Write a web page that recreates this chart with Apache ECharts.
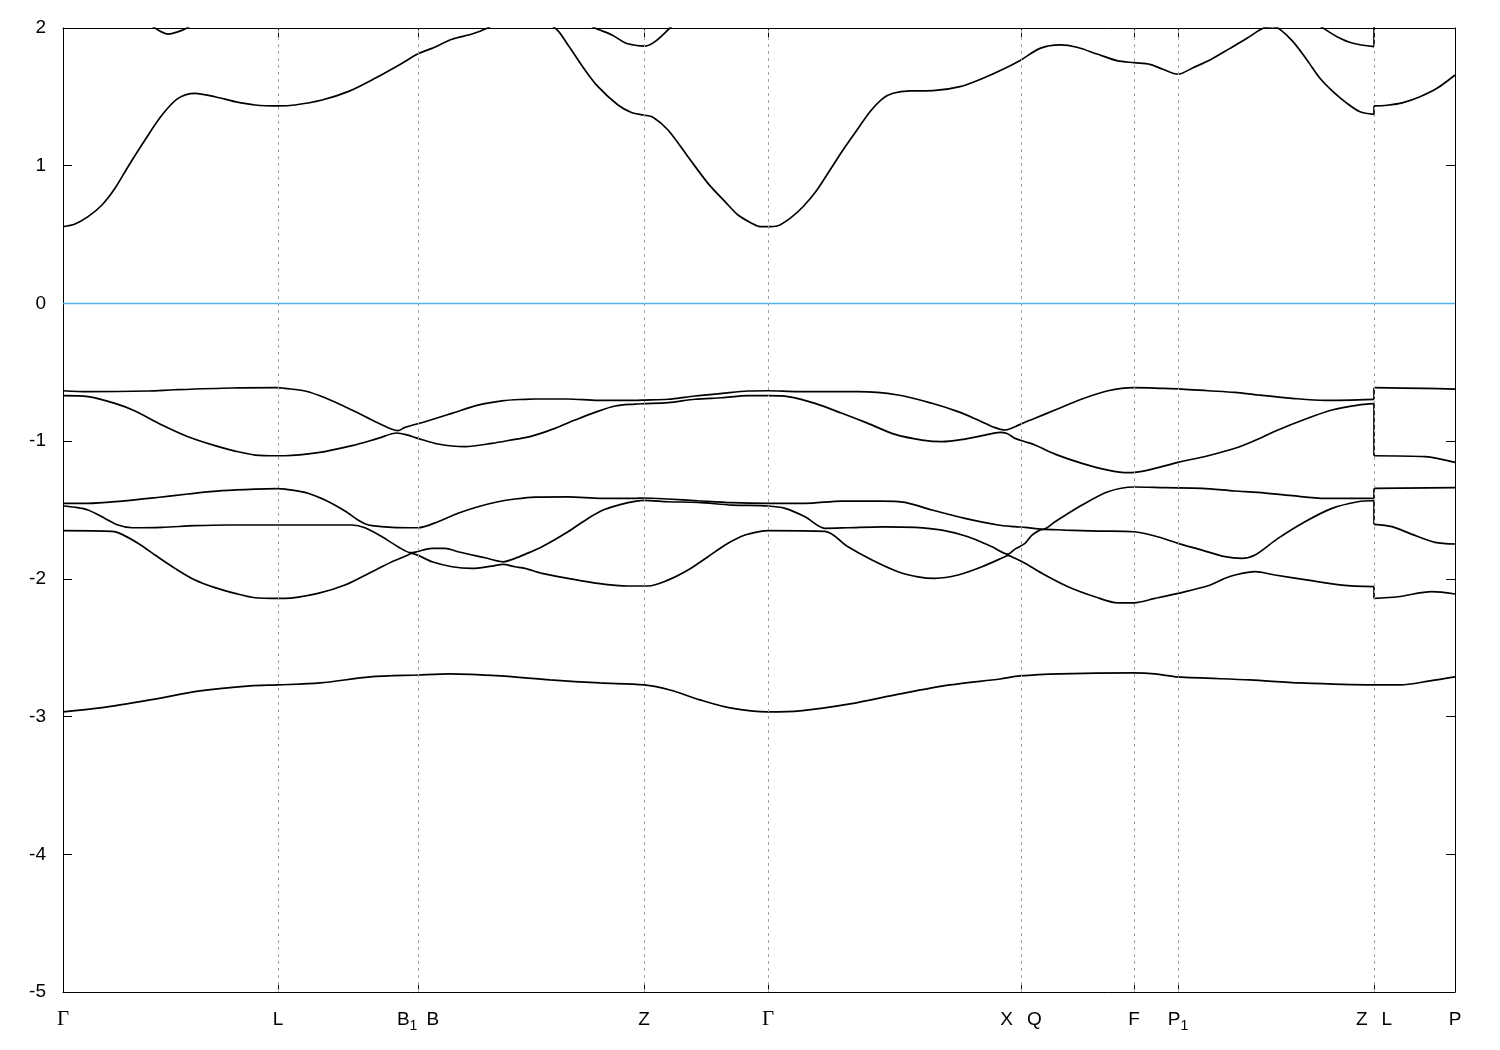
<!DOCTYPE html>
<html><head><meta charset="utf-8">
<script src="https://cdn.jsdelivr.net/npm/echarts@6/dist/echarts.min.js"></script>
<style>html,body{margin:0;padding:0;background:#fff}#c{width:1500px;height:1050px}</style>
</head><body><div id="c"></div>
<script>
// k-path positions of high-symmetry points and their labels
const kTicks = [0, 215, 355, 581, 705, 958, 1071, 1115, 1311, 1392];
const kLabels = ['{g|Γ}', '{n|L}', '{n|B}{s|1}{w| }{n|B}', '{n|Z}', '{g|Γ}', '{n|X}{w2| }{n|Q}', '{n|F}', '{n|P}{s|1}', '{n|Z}{w2| }{n|L}', '{n|P}'];
const yMin = -5, yMax = 2, yStep = 1;

// conduction bands [k, E]
const bandC1 = [[0,0.557],[12,0.577],[25,0.630],[39,0.715],[52,0.836],[65,0.993],[82,1.187],[99,1.368],[115,1.489],[132,1.526],[152,1.501],[172,1.465],[192,1.441],[215,1.434],[232,1.441],[259,1.477],[285,1.538],[312,1.635],[339,1.744],[356,1.816],[369,1.852],[389,1.918],[409,1.956],[424,1.998],[457,2.12],[492,2.0],[505,1.877],[522,1.695],[535,1.574],[555,1.441],[569,1.385],[581,1.368],[590,1.352],[605,1.259],[625,1.065],[645,0.872],[662,0.739],[675,0.642],[689,0.581],[697,0.557],[705,0.557],[714,0.562],[727,0.618],[740,0.702],[754,0.824],[767,0.969],[780,1.114],[794,1.259],[807,1.392],[820,1.489],[830,1.526],[847,1.543],[870,1.545],[897,1.574],[920,1.635],[940,1.700],[958,1.768],[977,1.852],[997,1.877],[1014,1.860],[1034,1.811],[1054,1.763],[1071,1.748],[1087,1.736],[1100,1.700],[1115,1.664],[1130,1.712],[1147,1.768],[1167,1.852],[1184,1.925],[1200,1.998],[1210,2.01],[1217,1.99],[1230,1.901],[1244,1.768],[1257,1.635],[1270,1.538],[1284,1.453],[1297,1.392],[1311,1.373],[1311,1.434],[1324,1.439],[1340,1.458],[1357,1.501],[1374,1.562],[1392,1.659]];
const bandC2 = [[0,2.15],[70,2.1],[92,2.0],[99,1.97],[105,1.956],[114,1.97],[124,2.0],[145,2.1],[300,2.3],[480,2.2],[520,2.05],[532,2.0],[549,1.949],[562,1.893],[572,1.875],[582,1.869],[592,1.901],[607,2.0],[630,2.15],[900,2.4],[1200,2.3],[1240,2.1],[1260,2.0],[1274,1.937],[1290,1.889],[1311,1.865],[1311,2.3],[1392,2.3]];

// valence bands [k, E]
const bandV1 = [[0,-0.634],[25,-0.641],[85,-0.636],[112,-0.627],[169,-0.614],[215,-0.612],[222,-0.617],[242,-0.636],[262,-0.685],[289,-0.774],[309,-0.847],[329,-0.914],[335,-0.924],[342,-0.900],[362,-0.859],[389,-0.798],[415,-0.738],[439,-0.707],[462,-0.696],[472,-0.694],[505,-0.694],[535,-0.704],[572,-0.704],[581,-0.702],[605,-0.696],[632,-0.672],[659,-0.653],[685,-0.636],[705,-0.634],[735,-0.641],[795,-0.641],[835,-0.665],[869,-0.725],[895,-0.786],[915,-0.847],[932,-0.902],[942,-0.919],[952,-0.895],[962,-0.863],[972,-0.834],[992,-0.774],[1019,-0.694],[1045,-0.634],[1071,-0.612],[1099,-0.617],[1119,-0.622],[1145,-0.634],[1172,-0.646],[1195,-0.665],[1229,-0.689],[1262,-0.704],[1311,-0.696],[1311,-0.612],[1362,-0.617],[1392,-0.622]];
const bandV2 = [[0,-0.670],[25,-0.677],[52,-0.726],[72,-0.781],[99,-0.883],[125,-0.968],[152,-1.033],[172,-1.072],[192,-1.101],[215,-1.106],[222,-1.106],[255,-1.084],[289,-1.033],[315,-0.980],[334,-0.941],[344,-0.955],[355,-0.980],[375,-1.021],[402,-1.040],[429,-1.016],[452,-0.987],[462,-0.975],[472,-0.956],[492,-0.907],[512,-0.847],[532,-0.791],[552,-0.745],[572,-0.731],[581,-0.728],[605,-0.721],[632,-0.696],[659,-0.685],[685,-0.670],[705,-0.670],[725,-0.677],[752,-0.726],[779,-0.798],[805,-0.871],[832,-0.951],[859,-0.992],[879,-1.004],[902,-0.985],[922,-0.956],[937,-0.936],[944,-0.945],[952,-0.980],[962,-1.004],[972,-1.028],[992,-1.094],[1019,-1.161],[1045,-1.210],[1065,-1.229],[1085,-1.210],[1115,-1.154],[1145,-1.106],[1172,-1.052],[1189,-1.004],[1215,-0.919],[1242,-0.841],[1269,-0.774],[1295,-0.738],[1311,-0.728],[1311,-1.106],[1362,-1.113],[1392,-1.154]];
const bandV3 = [[0,-1.452],[25,-1.452],[59,-1.435],[92,-1.411],[125,-1.384],[159,-1.360],[192,-1.348],[215,-1.345],[222,-1.348],[242,-1.372],[262,-1.428],[282,-1.508],[295,-1.573],[302,-1.600],[309,-1.614],[329,-1.626],[355,-1.629],[375,-1.585],[395,-1.524],[415,-1.476],[435,-1.440],[452,-1.420],[472,-1.406],[505,-1.404],[539,-1.415],[572,-1.415],[581,-1.413],[605,-1.420],[635,-1.433],[669,-1.447],[705,-1.452],[742,-1.452],[779,-1.435],[819,-1.435],[842,-1.445],[869,-1.500],[902,-1.561],[935,-1.609],[952,-1.621],[962,-1.626],[980,-1.640],[992,-1.585],[1019,-1.464],[1045,-1.367],[1071,-1.333],[1102,-1.338],[1139,-1.343],[1172,-1.362],[1195,-1.372],[1229,-1.396],[1262,-1.415],[1311,-1.415],[1311,-1.343],[1392,-1.338]];
const bandV4 = [[0,-1.471],[12,-1.480],[25,-1.500],[42,-1.561],[55,-1.609],[69,-1.629],[99,-1.626],[132,-1.614],[165,-1.609],[215,-1.609],[289,-1.609],[302,-1.629],[319,-1.694],[335,-1.767],[348,-1.810],[369,-1.778],[382,-1.778],[395,-1.803],[422,-1.847],[440,-1.876],[452,-1.851],[462,-1.822],[479,-1.767],[505,-1.658],[525,-1.561],[542,-1.495],[559,-1.457],[572,-1.437],[581,-1.430],[605,-1.440],[635,-1.445],[669,-1.464],[705,-1.471],[722,-1.488],[742,-1.549],[762,-1.633],[785,-1.629],[819,-1.622],[852,-1.626],[879,-1.646],[905,-1.694],[929,-1.767],[945,-1.820],[952,-1.784],[962,-1.742],[969,-1.682],[980,-1.640],[1002,-1.646],[1035,-1.653],[1071,-1.658],[1092,-1.689],[1115,-1.742],[1139,-1.791],[1162,-1.839],[1179,-1.851],[1192,-1.827],[1215,-1.706],[1242,-1.585],[1269,-1.488],[1295,-1.440],[1311,-1.433],[1311,-1.604],[1329,-1.621],[1349,-1.677],[1372,-1.735],[1392,-1.747]];
const bandV5 = [[0,-1.650],[49,-1.655],[59,-1.677],[75,-1.742],[92,-1.827],[112,-1.924],[132,-2.009],[152,-2.064],[172,-2.105],[192,-2.137],[215,-2.142],[222,-2.142],[255,-2.105],[282,-2.045],[309,-1.948],[329,-1.876],[345,-1.827],[348,-1.815],[369,-1.876],[389,-1.912],[409,-1.924],[429,-1.907],[440,-1.895],[452,-1.912],[462,-1.924],[479,-1.960],[505,-1.996],[535,-2.033],[565,-2.052],[585,-2.052],[605,-2.009],[625,-1.936],[645,-1.839],[665,-1.742],[682,-1.682],[699,-1.653],[705,-1.650],[762,-1.655],[785,-1.767],[809,-1.863],[835,-1.948],[855,-1.985],[872,-1.996],[895,-1.972],[919,-1.912],[942,-1.839],[945,-1.830],[952,-1.851],[962,-1.887],[979,-1.960],[1005,-2.057],[1032,-2.130],[1055,-2.174],[1071,-2.174],[1092,-2.142],[1115,-2.105],[1145,-2.050],[1162,-1.996],[1172,-1.972],[1192,-1.948],[1212,-1.972],[1245,-2.009],[1279,-2.045],[1311,-2.057],[1311,-2.142],[1335,-2.130],[1369,-2.093],[1392,-2.110]];
const bandV6 = [[0,-2.966],[37,-2.937],[87,-2.879],[137,-2.814],[187,-2.777],[215,-2.770],[257,-2.756],[307,-2.712],[355,-2.698],[387,-2.690],[437,-2.705],[487,-2.734],[537,-2.756],[581,-2.770],[607,-2.807],[637,-2.879],[667,-2.937],[705,-2.966],[737,-2.959],[787,-2.908],[837,-2.835],[887,-2.770],[937,-2.727],[957,-2.705],[997,-2.690],[1071,-2.683],[1092,-2.690],[1115,-2.712],[1187,-2.734],[1237,-2.756],[1311,-2.770],[1337,-2.770],[1367,-2.741],[1392,-2.712]];
const fermi = [[0,0],[1392,0]];

const bands = [bandC1, bandC2, bandV1, bandV2, bandV3, bandV4, bandV5, bandV6];

const chart = echarts.init(document.getElementById('c'), null, {renderer: 'canvas'});
const kMin = kTicks[0], kMax = kTicks[kTicks.length - 1];
const inner = kTicks.slice(1, -1);

function xAxisBase(pos, showLabels) {
  return {
    type: 'value', position: pos, min: kMin, max: kMax,
    axisLine: {show: true, onZero: false, lineStyle: {color: '#000', width: 1}},
    axisTick: {show: true, inside: true, length: 9, customValues: kTicks, lineStyle: {color: '#000', width: 1}},
    splitLine: {show: false},
    axisLabel: showLabels ? {
      show: true, customValues: kTicks, margin: 14, hideOverlap: false,
      formatter: function (v) { const i = kTicks.indexOf(v); return i >= 0 ? kLabels[i] : ''; },
      rich: {
        g: {fontFamily: 'Liberation Serif', fontSize: 21, lineHeight: 27, color: '#000'},
        n: {fontFamily: 'Liberation Sans', fontSize: 19, lineHeight: 27, color: '#000'},
        s: {fontFamily: 'Liberation Sans', fontSize: 14, lineHeight: 14, padding: [13, 0, 0, 0], color: '#000'},
        w: {fontSize: 19, width: 9, lineHeight: 27},
        w2: {fontSize: 19, width: 14, lineHeight: 27}
      }
    } : {show: false}
  };
}
function yAxisBase(pos, showLabels) {
  return {
    type: 'value', position: pos, min: yMin, max: yMax, interval: yStep,
    axisLine: {show: true, onZero: false, lineStyle: {color: '#000', width: 1}},
    axisTick: {show: true, inside: true, length: 9, lineStyle: {color: '#000', width: 1}},
    splitLine: {show: false},
    axisLabel: showLabels ? {show: true, margin: 17, color: '#000', fontFamily: 'Liberation Sans', fontSize: 19} : {show: false}
  };
}

const series = [{
  type: 'line', data: fermi, xAxisIndex: 0, yAxisIndex: 0, showSymbol: false, silent: true, z: 1,
  lineStyle: {color: '#4fb2ea', width: 1.5},
  markLine: {
    silent: true, symbol: ['none', 'none'], label: {show: false},
    lineStyle: {color: '#a0a0a0', width: 1, type: [3, 4]},
    data: inner.map(k => ({xAxis: k}))
  }
}];
const bandLine = {color: '#000', width: 1.7};
// split each band at the path discontinuity (two points at same k): smooth pieces + straight vertical connector
bands.forEach(b => {
  let start = 0;
  for (let i = 1; i <= b.length; i++) {
    if (i === b.length || b[i][0] === b[i - 1][0]) {
      series.push({type: 'line', data: b.slice(start, i), showSymbol: false, silent: true, z: 3,
        clip: true, smooth: 0.3, lineStyle: bandLine});
      if (i < b.length) {
        series.push({type: 'line', data: [b[i - 1], b[i]], showSymbol: false, silent: true, z: 3,
          clip: true, smooth: false, lineStyle: bandLine});
      }
      start = i;
    }
  }
});

chart.setOption({
  animation: false,
  backgroundColor: '#fff',
  grid: {left: 63, right: 45, top: 28, bottom: 58, containLabel: false},
  xAxis: [xAxisBase('bottom', true), xAxisBase('top', false)],
  yAxis: [yAxisBase('left', true), yAxisBase('right', false)],
  series: series
});
</script></body></html>
